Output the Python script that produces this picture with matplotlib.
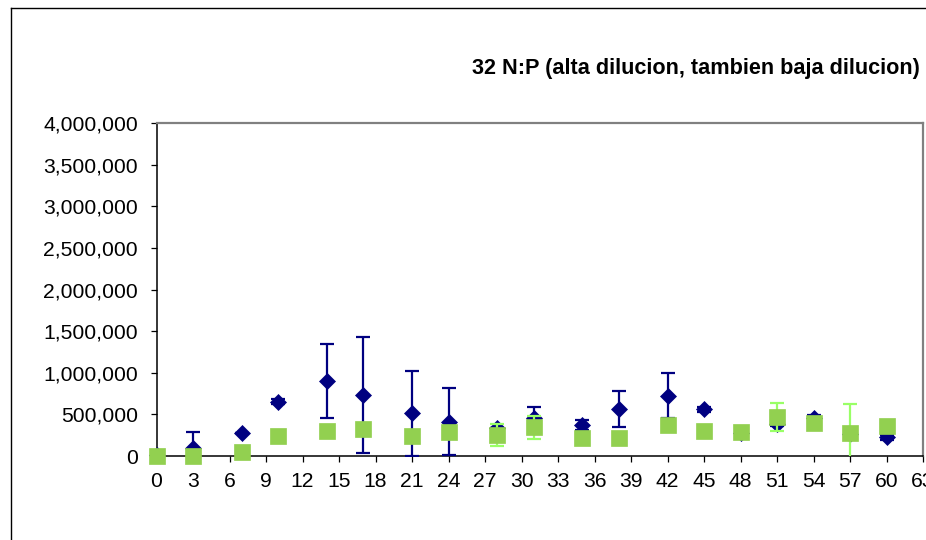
import matplotlib
matplotlib.use("Agg")
import matplotlib.pyplot as plt
from matplotlib.ticker import FuncFormatter
from matplotlib.lines import Line2D

plt.rcParams['font.family'] = ['Liberation Sans', 'DejaVu Sans']

title = "32 N:P (alta dilucion, tambien baja dilucion)"
days = [0, 3, 7, 10, 14, 17, 21, 24, 28, 31, 35, 38, 42, 45, 48, 51, 54, 57, 60]
blue_mean = [15000, 102000, 280000, 652000, 900000, 733000, 513000, 412000, 342000,
             462000, 372000, 561000, 725000, 561000, 276000, 384000, 462000, 264000, 224000]
blue_err = [0, 183000, 0, 30000, 440000, 695000, 510000, 400000, 0,
            123000, 65000, 215000, 270000, 30000, 0, 20000, 25000, 0, 30000]
green_mean = [5000, 5000, 44000, 240000, 304000, 324000, 244000, 288000, 252000,
              344000, 212000, 212000, 372000, 304000, 292000, 472000, 400000, 280000, 364000]
green_err = [0, 0, 0, 0, 0, 0, 25000, 0, 128000,
             140000, 0, 0, 0, 0, 0, 170000, 0, 345000, 0]
x_ticks = list(range(0, 64, 3))
y_ticks = list(range(0, 4000001, 500000))

W, H = 926, 540
fig = plt.figure(figsize=(W / 100, H / 100), dpi=100)
ax = fig.add_axes([156.5 / W, (H - 456) / H, (923 - 156.5) / W, 333 / H])

navy = '#000080'
green = '#92D050'
green_err_c = '#99FF66'

ax.errorbar(days, blue_mean, yerr=blue_err, fmt='none', ecolor=navy,
            elinewidth=1.6, capsize=4.8, capthick=1.6, zorder=3)
ax.plot(days, blue_mean, linestyle='none', marker='D', ms=8.6, color=navy,
        mec=navy, mew=0.5, zorder=3.5, clip_on=False)
ax.errorbar(days, green_mean, yerr=green_err, fmt='none', ecolor=green_err_c,
            elinewidth=1.6, capsize=4.8, capthick=1.6, zorder=4)
ax.plot(days, green_mean, linestyle='none', marker='s', ms=11.4, color=green,
        mec=green, mew=0.5, zorder=4.5, clip_on=False)

ax.set_xlim(0, 63)
ax.set_ylim(0, 4000000)
ax.set_xticks(x_ticks)
ax.set_yticks(y_ticks)
ax.yaxis.set_major_formatter(FuncFormatter(lambda v, p: f"{int(v):,}"))

for s in ['left', 'bottom']:
    ax.spines[s].set_color('black')
    ax.spines[s].set_linewidth(1.1)
for s in ['top', 'right']:
    ax.spines[s].set_color('#808080')
    ax.spines[s].set_linewidth(1.6)

ax.tick_params(axis='both', direction='out', length=4.3, width=0.9, color='black',
               labelsize=15.2, labelcolor='black')
ax.tick_params(axis='y', pad=9)
ax.tick_params(axis='x', pad=7.5)

fig.text(472 / W, 1 - 74 / H, title, fontsize=15.6, fontweight='bold',
         ha='left', va='baseline', color='black')

# outer chart border
fig.add_artist(Line2D([11 / W, 11 / W], [0, 1 - 8 / H], transform=fig.transFigure,
                      color='black', lw=1.0))
fig.add_artist(Line2D([11 / W, 1.0], [1 - 8 / H, 1 - 8 / H], transform=fig.transFigure,
                      color='black', lw=1.0))

fig.savefig('out.png', dpi=100)
